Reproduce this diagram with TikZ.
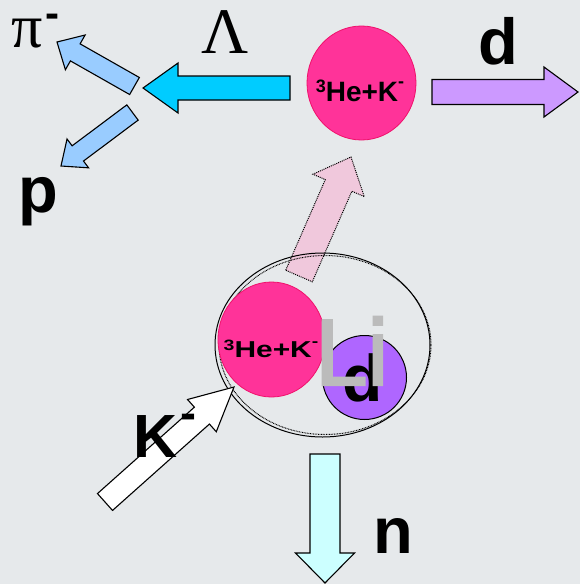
\documentclass[tikz,border=0pt]{standalone}
\usepackage{fontspec}
\setmainfont{Liberation Sans}
\newfontfamily\seriffont{Liberation Serif}
\newfontfamily\lifont[FakeBold=2.5]{Liberation Sans}
\usetikzlibrary{calc,shapes.geometric}
\definecolor{bg}{HTML}{E6E9EB}
\definecolor{hepink}{HTML}{FF3399}
\definecolor{hepinkline}{HTML}{F0106A}
\definecolor{darrow}{HTML}{CC99FF}
\definecolor{dball}{HTML}{AF66FF}
\definecolor{lamcyan}{HTML}{00CCFF}
\definecolor{decblue}{HTML}{99CCFF}
\definecolor{ncyan}{HTML}{CCFFFF}
\definecolor{softpink}{HTML}{F0C8DC}
\definecolor{ligray}{HTML}{BBBBBB}
\newcommand\blockarrow[6]{%
  \coordinate (hb) at ($(#2)!#5!(#1)$);
  \draw[#6] ($(#1)!#3!90:(#2)$) -- ($(hb)!#3!90:(#2)$) -- ($(hb)!#4!90:(#2)$)
    -- (#2) -- ($(hb)!#4!-90:(#2)$) -- ($(hb)!#3!-90:(#2)$) -- ($(#1)!#3!-90:(#2)$) -- cycle;}
\newcommand\hek[2]{{\fontsize{#1}{#1}\selectfont\bfseries
  {\fontsize{#2}{#2}\selectfont\raisebox{0.3\dimexpr#1pt\relax}{3}}He+K{\fontsize{#2}{#2}\selectfont\raisebox{0.48\dimexpr#1pt\relax}{-}}}}
\tikzset{
  arrowline/.style={draw=black, line width=1.1pt, line join=miter},
  bigbold/.style={inner sep=0pt, anchor=base, font=\fontsize{65}{65}\selectfont\bfseries},
}
\begin{document}
\begin{tikzpicture}[x=1pt,y=-1pt]
\fill[bg] (0,0) rectangle (580,584);
\useasboundingbox (0,0) rectangle (580,584);
% coordinates
\coordinate (lamA) at (290,88);   \coordinate (lamB) at (143,88);
\coordinate (dA) at (432,92);     \coordinate (dB) at (578,92);
\coordinate (piA) at (134.5,86);  \coordinate (piB) at (57,42);
\coordinate (pA) at (132.5,112.5);\coordinate (pB) at (61,166);
\coordinate (fA) at (299,276);    \coordinate (fB) at (351,157);
\coordinate (kA) at (105,502);    \coordinate (kB) at (234,387);
\coordinate (nA) at (325,454);    \coordinate (nB) at (325,583);
% top compound
\node[draw=hepinkline, line width=0.8pt, fill=hepink, ellipse, minimum width=109pt, minimum height=114pt, inner sep=0pt] (topball) at (361.5,83) {};
\node[inner sep=0pt] (toptext) at (360,91) {\hek{28}{18}};
% arrows top
\blockarrow{lamA}{lamB}{12pt}{25pt}{35pt}{arrowline, fill=lamcyan}
\blockarrow{dA}{dB}{12.5pt}{25pt}{34pt}{arrowline, fill=darrow}
\blockarrow{piA}{piB}{9.8pt}{20pt}{21pt}{arrowline, fill=decblue}
\blockarrow{pA}{pB}{9.5pt}{18pt}{21pt}{arrowline, fill=decblue}
% pink dotted arrow
\blockarrow{fA}{fB}{14.5pt}{28pt}{31pt}{draw=black, line width=1pt, dash pattern=on 1pt off 1pt, fill=softpink}
% Li nucleus ellipse
\draw[line width=1pt] (322.5,345) ellipse [x radius=107.5, y radius=92];
\draw[line width=1pt, dash pattern=on 0.8pt off 0.8pt] (325,345) ellipse [x radius=106, y radius=89.5];
\node[draw=hepinkline, line width=0.8pt, fill=hepink, ellipse, minimum width=107pt, minimum height=115pt, inner sep=0pt] (lowball) at (271.5,339.5) {};
\node[inner sep=0pt] (lowtext) at (271,349) {\scalebox{1.3}[1]{\hek{23}{15}}};
\node[draw=black, line width=1pt, fill=dball, circle, minimum size=84pt, inner sep=0pt] (dball) at (364.5,377.5) {};
\node[bigbold, font=\fontsize{66}{66}\selectfont\bfseries] (dinner) at (363,401) {d};
\node[inner sep=0pt, anchor=base west, text=ligray, font=\fontsize{94}{94}\lifont] (li) at (315,385) {Li};
% K- arrow and n arrow
\blockarrow{kA}{kB}{11.3pt}{21.6pt}{43pt}{arrowline, fill=white}
\blockarrow{nA}{nB}{15pt}{29.5pt}{30pt}{arrowline, fill=ncyan}
% labels
\node[inner sep=0pt, anchor=base, font=\fontsize{65}{65}\selectfont\seriffont] (lamlabel) at (225,53) {Λ};
\node[inner sep=0pt, anchor=base west] (pilabel) at (11,47) {{\fontsize{62}{62}\selectfont\seriffont π}\kern3pt{\fontsize{42}{42}\selectfont\bfseries\raisebox{20pt}{-}}};
\node[bigbold] (dlabel) at (498.5,64) {d};
\node[bigbold] (plabel) at (38,212) {p};
\node[bigbold] (nlabel) at (393,553) {n};
\node[inner sep=0pt, anchor=base west] (klabel) at (133.5,457) {{\fontsize{61}{61}\selectfont\bfseries K}\kern3pt{\fontsize{48}{48}\selectfont\bfseries\raisebox{28pt}{-}}};
\end{tikzpicture}
\end{document}
